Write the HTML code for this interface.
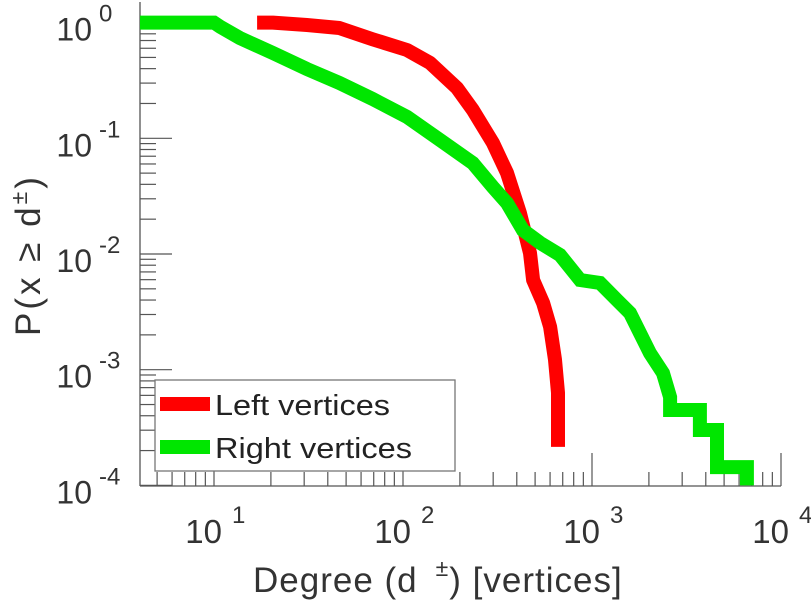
<!DOCTYPE html>
<html><head><meta charset="utf-8">
<style>
html,body{margin:0;padding:0;background:#fff;}
svg{display:block;font-family:"Liberation Sans",sans-serif;}
</style></head>
<body>
<svg id="chart" width="811" height="600" viewBox="0 0 811 600">
  <g id="axes"></g>
  <g id="series"></g>
  <g id="legend">
    <rect x="155" y="380" width="300" height="91" fill="#fff" stroke="#777" stroke-width="1.3"/>
    <line x1="160" y1="404" x2="210" y2="404" stroke="#ff0000" stroke-width="14"/>
    <text x="215" y="415" font-size="29" fill="#222" textLength="175" lengthAdjust="spacingAndGlyphs">Left vertices</text>
    <line x1="160" y1="447" x2="210" y2="447" stroke="#00e600" stroke-width="14"/>
    <text x="215" y="458" font-size="29" fill="#222" textLength="197" lengthAdjust="spacingAndGlyphs">Right vertices</text>
  </g>
  <text x="253" y="592" font-size="35" letter-spacing="1" fill="#333"><tspan>Degree (d</tspan><tspan dx="18" dy="-16" font-size="23">±</tspan><tspan dy="16">) [vertices]</tspan></text>
  <text transform="translate(40,336) rotate(-90)" font-size="35" letter-spacing="3" fill="#333">P(x ≥ d<tspan dy="-13" font-size="23">±</tspan><tspan dy="13">)</tspan></text>
</svg>
<script>
const leftDeg = [16.9,20.5,31,46,69,105,139,193,234,299,355,416,470,488,551,600,637,661,661,661];
const leftP   = [1.0,1.0,0.953,0.898,0.719,0.58,0.448,0.272,0.176,0.0913,0.0502,0.0225,0.0102,0.00596,0.00378,0.00235,0.00122,0.000633,0.00035,0.000215];
const rightDeg = [4.06,10,10.8,13.7,20.5,31,46,69,105,157,234,299,355,431,531,677,865,1102,1355,1588,1794,2027,2376,2588,2588,3725,3725,4585,4585,6600,6600];
const rightP   = [1.0,1.0,0.92,0.736,0.546,0.397,0.301,0.219,0.153,0.0966,0.0611,0.0379,0.0276,0.0161,0.0125,0.0098,0.00596,0.00561,0.0040,0.00309,0.00207,0.00139,0.000935,0.00058,0.000448,0.000448,0.000301,0.000301,0.000144,0.000144,0.0001];
const xTickExps = [1,2,3,4];
const yTickExps = [0,-1,-2,-3,-4];
const xTickLabels = ["1","2","3","4"];
const yTickLabels = ["0","-1","-2","-3","-4"];

const NS = "http://www.w3.org/2000/svg";
function X(d){ return 214 + 189*(Math.log10(d)-1); }
function Y(p){ return 22.6 - 115.7*Math.log10(p); }
function mk(tag, attrs, parent){ const e=document.createElementNS(NS,tag); for(const k in attrs) e.setAttribute(k,attrs[k]); parent.appendChild(e); return e; }

const axes = document.getElementById('axes');
const axColor = "#555";
const x0 = 140, yb = 486;
let a = mk('line',{x1:x0,y1:2,x2:x0,y2:yb,stroke:axColor,'stroke-width':1.3},axes);


a = mk('line',{x1:x0,y1:yb,x2:781,y2:yb,stroke:axColor,'stroke-width':1.3},axes);



for (let e=-4; e<=0; e++){
  for (let m=1; m<=9; m++){
    const v = m*Math.pow(10,e);
    if (e===0 && m>1) break;
    const y = Y(v);
    const t = mk('line',{x1:x0,y1:y,x2:x0+(m===1?32:16),y2:y,stroke:axColor,'stroke-width':1.2},axes);
    
    
  }
}
for (let e=0; e<=3; e++){
  for (let m=1; m<=9; m++){
    const v = m*Math.pow(10,e);
    const x = X(v);
    if (x < x0) continue;
    const t = mk('line',{x1:x,y1:yb,x2:x,y2:yb-(m===1?33:14),stroke:axColor,'stroke-width':1.2},axes);
    
    
  }
}
let t = mk('line',{x1:X(10000),y1:yb,x2:X(10000),y2:yb-33,stroke:axColor,'stroke-width':1.2},axes);



yTickExps.forEach((e,i)=>{
  const y = Y(Math.pow(10,e));
  const g = mk('text',{x:92,y:y+18,'font-size':32,fill:'#333','text-anchor':'end'},axes);
  g.textContent = "10";
  
  
  const s = mk('text',{x:99,y:y-1,'font-size':24,fill:'#333'},axes);
  s.textContent = yTickLabels[i];
  
  
});
xTickExps.forEach((e,i)=>{
  const x = X(Math.pow(10,e));
  const g = mk('text',{x:x+8,y:543,'font-size':33,fill:'#333','text-anchor':'end'},axes);
  g.textContent = "10";
  
  
  const s = mk('text',{x:x+18,y:523,'font-size':24,fill:'#333'},axes);
  s.textContent = xTickLabels[i];
  
  
});

const series = document.getElementById('series');
function path(ds, ps){ return ds.map((d,i)=>(i?'L':'M')+X(d).toFixed(1)+','+Y(ps[i]).toFixed(1)).join(' '); }
const pr = mk('path',{d:path(leftDeg,leftP),fill:'none',stroke:'#ff0000','stroke-width':14,'stroke-linejoin':'round','stroke-linecap':'butt'},series);


const pg = mk('path',{d:path(rightDeg,rightP),fill:'none',stroke:'#00e600','stroke-width':14,'stroke-linejoin':'miter','stroke-linecap':'butt'},series);


</script>
</body></html>
